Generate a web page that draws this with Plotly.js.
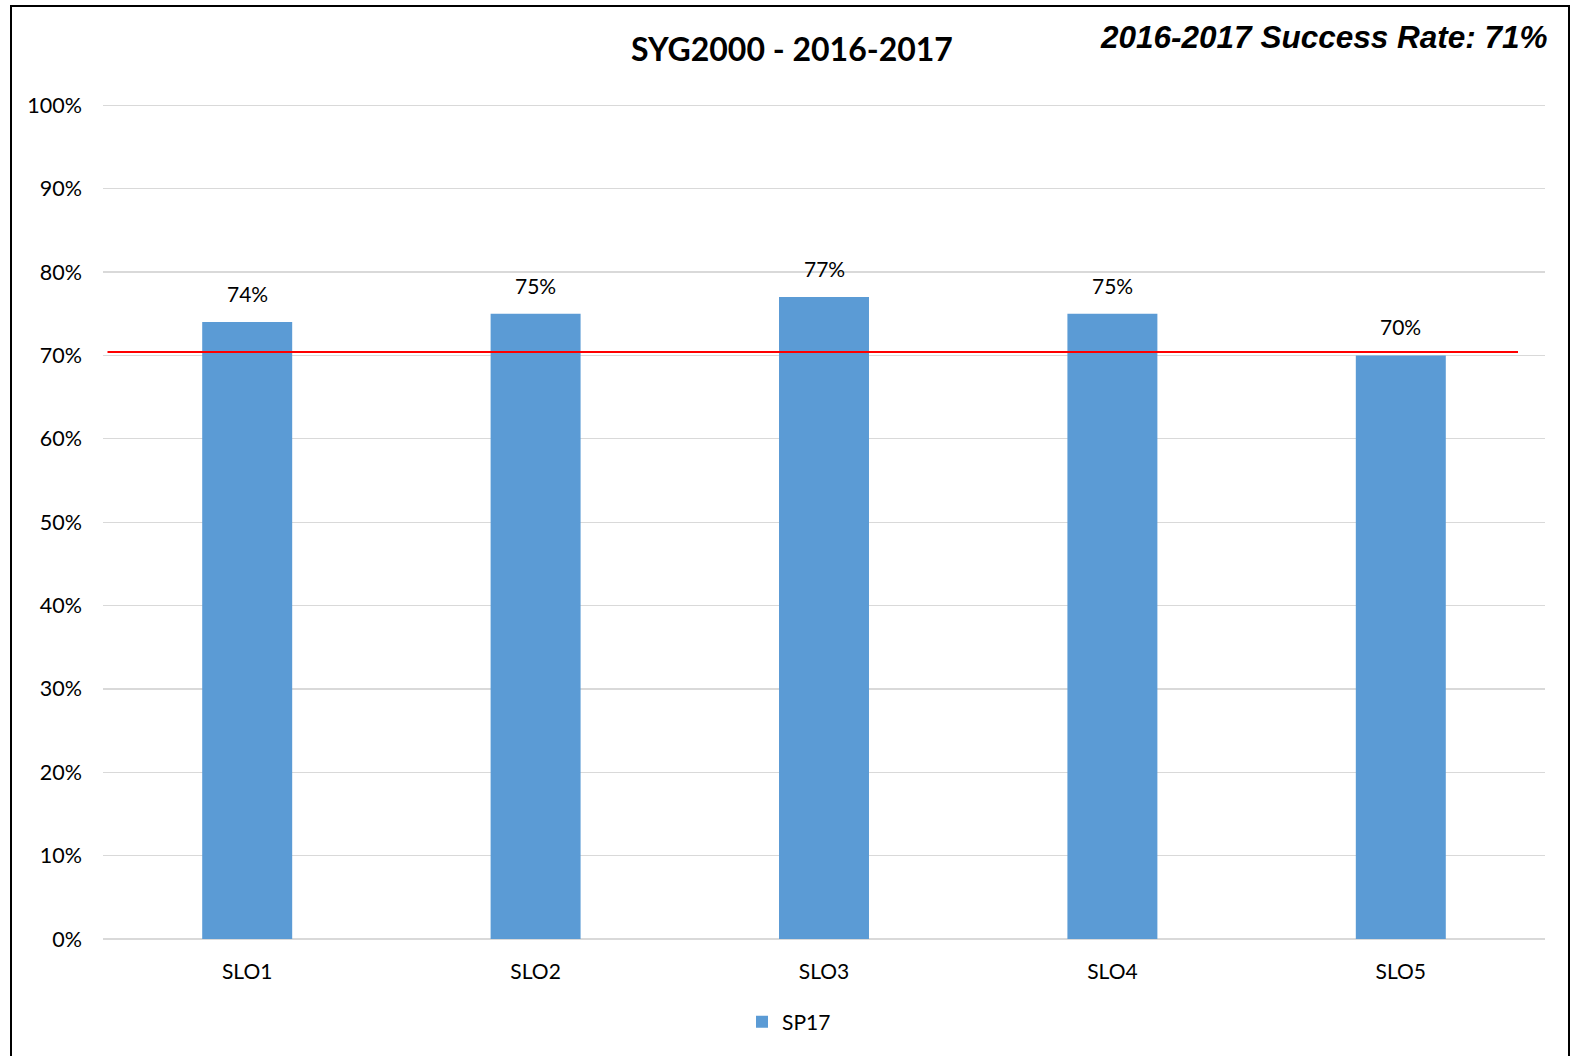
<!DOCTYPE html>
<html>
<head>
<meta charset="utf-8">
<script src="https://cdn.plot.ly/plotly-3.0.1.min.js"></script>
<style>
  html, body { margin: 0; padding: 0; background: #ffffff; }
  #chart { width: 1575px; height: 1056px; }
</style>
</head>
<body>
<div id="chart"></div>
<script>
// ---- data ----
var categories = ["SLO1", "SLO2", "SLO3", "SLO4", "SLO5"];
var sp17Values = [74, 75, 77, 75, 70];
var seriesName = "SP17";
var successRateLine = [70.4];
var chartTitle = "SYG2000 - 2016-2017";
var successRateText = "2016-2017 Success Rate: 71%";
var yTickValues = [0, 10, 20, 30, 40, 50, 60, 70, 80, 90, 100];

// ---- layout geometry (pixels) ----
var W = 1575, H = 1056;
var mL = 103, mR = 30, mT = 102, mB = 117;
var pw = W - mL - mR, ph = H - mT - mB;
function px2x(p) { return (p - mL) / pw; }
function px2y(p) { return (H - mB - p) / ph; }

var baseFont = "Lato, 'Open Sans', sans-serif";

var trace = {
  type: "bar",
  x: categories,
  y: sp17Values,
  name: seriesName,
  marker: { color: "#5B9BD5" },
  hoverinfo: "x+y"
};

var labelAnnotations = categories.map(function (c, i) {
  return {
    x: c, y: sp17Values[i], xref: "x", yref: "y",
    text: sp17Values[i] + "%",
    showarrow: false, yanchor: "bottom", yshift: 14,
    font: { family: baseFont, size: 21, color: "#000000" }
  };
});

labelAnnotations.push({
  xref: "paper", yref: "paper",
  x: px2x(1550), y: px2y(37),
  xanchor: "right", yanchor: "middle",
  text: "<b><i>" + successRateText + "</i></b>",
  showarrow: false,
  font: { family: "'Liberation Sans', Arial, sans-serif", size: 31.5, color: "#000000" }
});

var shapes = [
  // success rate reference line
  { type: "line", xref: "paper", yref: "y",
    x0: px2x(107.5), x1: px2x(1518),
    y0: successRateLine[0], y1: successRateLine[0],
    line: { color: "#FF0000", width: 2 } },
  // outer border (left, top, right)
  { type: "line", xref: "paper", yref: "paper",
    x0: px2x(11), x1: px2x(11), y0: px2y(5), y1: px2y(1100),
    line: { color: "#000000", width: 2 } },
  { type: "line", xref: "paper", yref: "paper",
    x0: px2x(10), x1: px2x(1570), y0: px2y(6), y1: px2y(6),
    line: { color: "#000000", width: 2 } },
  { type: "line", xref: "paper", yref: "paper",
    x0: px2x(1569), x1: px2x(1569), y0: px2y(5), y1: px2y(1100),
    line: { color: "#000000", width: 2 } }
];

var layout = {
  width: W, height: H,
  margin: { l: mL, r: mR, t: mT, b: mB, pad: 0 },
  paper_bgcolor: "#ffffff",
  plot_bgcolor: "#ffffff",
  font: { family: baseFont, size: 21, color: "#000000" },
  title: {
    text: "<b>" + chartTitle + "</b>",
    font: { family: baseFont, size: 32, color: "#000000" },
    x: 792 / W, xanchor: "center", xref: "container",
    y: 1 - 50 / H, yanchor: "middle", yref: "container"
  },
  bargap: 0.688,
  xaxis: {
    type: "category",
    showgrid: false, zeroline: false, showline: false,
    ticks: "", ticklabelstandoff: 18,
    tickfont: { family: baseFont, size: 21, color: "#000000" }
  },
  yaxis: {
    range: [0, 100.4],
    tickvals: yTickValues,
    ticktext: yTickValues.map(function (v) { return v + "%"; }),
    showgrid: true, gridcolor: "#D9D9D9", gridwidth: 1.3,
    zeroline: true, zerolinecolor: "#D9D9D9", zerolinewidth: 1.3,
    showline: false, ticks: "", ticklabelstandoff: 20,
    tickfont: { family: baseFont, size: 21.5, color: "#000000" },
    fixedrange: true
  },
  showlegend: true,
  legend: {
    orientation: "h",
    x: px2x(789), xanchor: "center",
    y: px2y(1022), yanchor: "middle",
    font: { family: baseFont, size: 21, color: "#000000" },
    bgcolor: "rgba(0,0,0,0)"
  },
  annotations: labelAnnotations,
  shapes: shapes
};

Plotly.newPlot("chart", [trace], layout, { displayModeBar: false, staticPlot: true });
</script>
</body>
</html>
